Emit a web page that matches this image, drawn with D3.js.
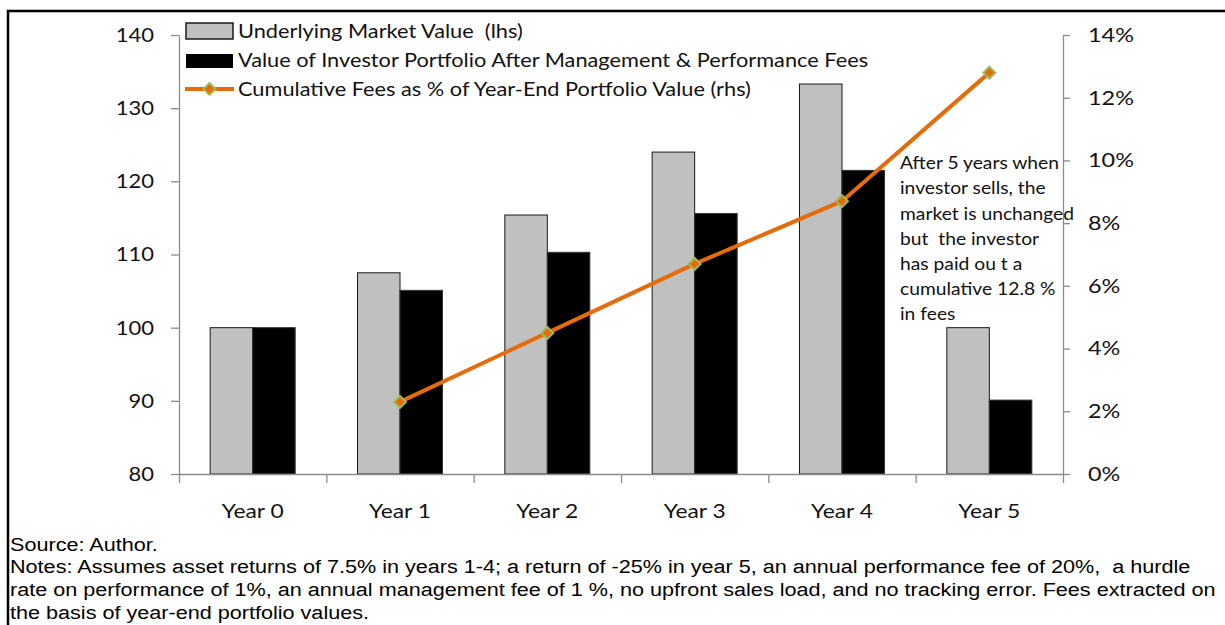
<!DOCTYPE html>
<html><head><meta charset="utf-8">
<script src="https://cdn.jsdelivr.net/npm/d3@7"></script>
<style>
html,body{margin:0;padding:0;background:#fff;}
svg{display:block;}
text{white-space:pre;}
</style></head>
<body>
<svg id="chart" width="1225" height="625"></svg>
<script>
const categories = ["Year 0","Year 1","Year 2","Year 3","Year 4","Year 5"];
const marketValue = [100, 107.5, 115.4, 124.0, 133.3, 100.0];
const investorValue = [100, 105.1, 110.3, 115.6, 121.5, 90.1];
const cumulativeFees = [null, 2.3, 4.5, 6.7, 8.7, 12.8];
const leftTicks = [80, 90, 100, 110, 120, 130, 140];
const rightTicks = [0, 2, 4, 6, 8, 10, 12, 14];
const seriesNames = ["Underlying Market Value  (lhs)",
  "Value of Investor Portfolio After Management & Performance Fees",
  "Cumulative Fees as % of Year-End Portfolio Value (rhs)"];
const annotationLines = ["After 5 years when","investor sells, the","market is unchanged","but  the investor","has paid ou t a","cumulative 12.8 %","in fees"];
const sourceText = "Source: Author.";
const notesLines = ["Notes: Assumes asset returns of 7.5% in years 1-4; a return of -25% in year 5, an annual performance fee of 20%,  a hurdle",
  "rate on performance of 1%, an annual management fee of 1 %, no upfront sales load, and no tracking error. Fees extracted on",
  "the basis of year-end portfolio values."];

const svg = d3.select("#chart");
const FONT = "Lato, 'Open Sans', sans-serif";
const ARIAL = "'Liberation Sans', Arial, sans-serif";
const L = 179, R = 1063, T = 35, B = 474;

// horizontal stretch helper (reference text is wider than these fonts)
function stretch(sel, k) {
  sel.each(function () {
    const w = this.getComputedTextLength();
    this.setAttribute("textLength", w * k);
    this.setAttribute("lengthAdjust", "spacingAndGlyphs");
  });
}

// frame
svg.append("rect").attr("x", 8).attr("y", 11).attr("width", 1240).attr("height", 640)
  .attr("fill", "none").attr("stroke", "#000").attr("stroke-width", 2.5);

const x = d3.scaleBand().domain(categories).range([L, R]).paddingInner(0.423).paddingOuter(0.2115);
const xSub = d3.scaleBand().domain([0, 1]).range([0, x.bandwidth()]);
const yL = d3.scaleLinear().domain([80, 140]).range([B, T]);
const yR = d3.scaleLinear().domain([0, 14]).range([B, T]);
const xi = d3.scaleLinear().domain([0, categories.length]).range([L, R]);

// bars
const g = svg.append("g");
categories.forEach((c, i) => {
  g.append("rect").attr("x", x(c) + xSub(0)).attr("y", yL(marketValue[i]))
    .attr("width", xSub.bandwidth()).attr("height", yL(80) - yL(marketValue[i]))
    .attr("fill", "#c0c0c0").attr("stroke", "#1a1a1a").attr("stroke-width", 1);
  g.append("rect").attr("x", x(c) + xSub(1)).attr("y", yL(investorValue[i]))
    .attr("width", xSub.bandwidth()).attr("height", yL(80) - yL(investorValue[i]))
    .attr("fill", "#000").attr("stroke", "#333").attr("stroke-width", 1);
});

// axes
const axisColor = "#8c8c8c";
function styleAxis(sel) {
  sel.select(".domain").attr("stroke", axisColor).attr("stroke-width", 1.3);
  sel.selectAll(".tick line").attr("stroke", axisColor).attr("stroke-width", 1.3);
  sel.selectAll("text").attr("fill", "#111").style("font-family", FONT).style("font-size", "20px");
}
const axL = svg.append("g").attr("transform", `translate(${L},0)`)
  .call(d3.axisLeft(yL).tickValues(leftTicks).tickSize(8).tickSizeOuter(0).tickPadding(17));
styleAxis(axL);
stretch(axL.selectAll("text"), 1.1);
const axR = svg.append("g").attr("transform", `translate(${R},0)`)
  .call(d3.axisRight(yR).tickValues(rightTicks).tickSize(7).tickSizeOuter(0).tickPadding(18).tickFormat(d => d + "%"));
styleAxis(axR);
stretch(axR.selectAll("text"), 1.17);
const axX = svg.append("g").attr("transform", `translate(0,${B})`)
  .call(d3.axisBottom(xi).tickValues(d3.range(0, categories.length + 1)).tickSize(9).tickSizeOuter(0).tickFormat(""));
styleAxis(axX);
const axXL = svg.append("g").attr("transform", `translate(0,${B})`)
  .call(d3.axisBottom(x).tickSize(0).tickPadding(30));
axXL.select(".domain").remove();
axXL.selectAll("text").attr("fill", "#111").style("font-family", FONT).style("font-size", "20px");
stretch(axXL.selectAll("text"), 1.14);

// line
const pts = categories.map((c, i) => ({c, v: cumulativeFees[i]})).filter(d => d.v !== null);
const line = d3.line().x(d => x(d.c) + x.bandwidth() / 2).y(d => yR(d.v));
svg.append("path").datum(pts).attr("d", line).attr("fill", "none")
  .attr("stroke", "#e46c0a").attr("stroke-width", 4).attr("stroke-linejoin", "round");
const diamond = d3.symbol().type(d3.symbolDiamond2).size(90);
svg.selectAll(".mk").data(pts).join("path")
  .attr("transform", d => `translate(${x(d.c) + x.bandwidth() / 2},${yR(d.v)})`)
  .attr("d", diamond).attr("fill", "#e46c0a").attr("stroke", "#9bbb59").attr("stroke-width", 2);

// legend
const lg = svg.append("g");
lg.append("rect").attr("x", 186).attr("y", 23).attr("width", 47).attr("height", 16)
  .attr("fill", "#c0c0c0").attr("stroke", "#1a1a1a").attr("stroke-width", 1.5);
lg.append("rect").attr("x", 186).attr("y", 54).attr("width", 47).attr("height", 14)
  .attr("fill", "#000");
lg.append("line").attr("x1", 185).attr("x2", 234).attr("y1", 89).attr("y2", 89)
  .attr("stroke", "#e46c0a").attr("stroke-width", 4);
lg.append("path").attr("transform", "translate(209.5,89)").attr("d", diamond)
  .attr("fill", "#e46c0a").attr("stroke", "#9bbb59").attr("stroke-width", 2);
const lgText = lg.selectAll(".lt").data(seriesNames).join("text")
  .attr("x", 238).attr("y", (d, i) => 31 + i * 29).attr("dy", "0.35em")
  .style("font-family", FONT).style("font-size", "19px").attr("fill", "#111")
  .text(d => d);
stretch(lgText, 1.145);

// annotation
const anText = svg.append("g").selectAll("text").data(annotationLines).join("text")
  .attr("x", 900).attr("y", (d, i) => 163 + i * 25.2).attr("dy", "0.35em")
  .style("font-family", FONT).style("font-size", "17.5px").attr("fill", "#111")
  .text(d => d);
stretch(anText, 1.1);

// source & notes
const src = svg.append("text").attr("x", 10).attr("y", 545).attr("dy", "0.35em")
  .style("font-family", ARIAL).style("font-size", "18px").text(sourceText);
stretch(src, 1.2);
const notes = svg.append("g").selectAll("text").data(notesLines).join("text")
  .attr("x", 10).attr("y", (d, i) => 567 + i * 22.7).attr("dy", "0.35em")
  .style("font-family", ARIAL).style("font-size", "18px").text(d => d);
stretch(notes, 1.2);
</script>
</body></html>
